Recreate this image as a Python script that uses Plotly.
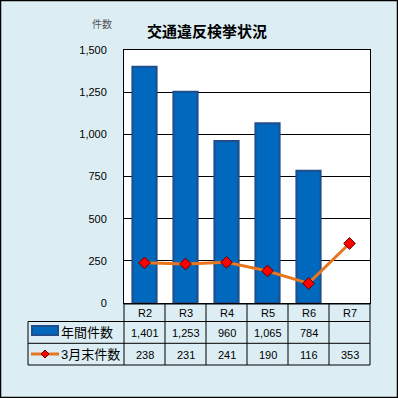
import plotly.graph_objects as go

categories = ["R2", "R3", "R4", "R5", "R6", "R7"]
annual = [1401, 1253, 960, 1065, 784, None]
march = [238, 231, 241, 190, 116, 353]
y_ticks = [0, 250, 500, 750, 1000, 1250, 1500]
series_names = ["年間件数", "3月末件数"]

W, H = 398, 398
L, R, T, B = 124, 370, 50, 303
BG = "#DCEEF4"
FONT = "Liberation Sans, Arial, Noto Sans CJK JP"
BAR_FILL = "#0068BD"
BAR_LINE = "#1F4E8A"
LINE_COL = "#E8761E"


def px(x):
    return (x - L) / (R - L)


def py(y):
    return (B - y) / (B - T)


fig = go.Figure()
fig.add_trace(go.Bar(x=categories, y=annual, name=series_names[0],
                     marker=dict(color=BAR_FILL, line=dict(color=BAR_LINE, width=2))))
fig.add_trace(go.Scatter(x=categories, y=march, name=series_names[1], mode="lines+markers",
                         line=dict(color=LINE_COL, width=3),
                         marker=dict(symbol="diamond", size=9, color="#FF0000",
                                     line=dict(color="#600000", width=1))))

shapes = []
annotations = []

def hline(y, x0, x1, w=1):
    shapes.append(dict(type="line", xref="paper", yref="paper", x0=px(x0), x1=px(x1),
                       y0=py(y), y1=py(y), line=dict(color="black", width=w)))

def vline(x, y0, y1, w=1):
    shapes.append(dict(type="line", xref="paper", yref="paper", x0=px(x), x1=px(x),
                       y0=py(y0), y1=py(y1), line=dict(color="black", width=w)))

def text(x, y, s, size=11, color="black", xanchor="center"):
    annotations.append(dict(xref="paper", yref="paper", x=px(x), y=py(y), text=s,
                            showarrow=False, xanchor=xanchor, yanchor="middle",
                            font=dict(size=size, color=color, family=FONT)))

# outer frame
shapes.append(dict(type="rect", xref="paper", yref="paper", x0=px(0.5), x1=px(397.5),
                   y0=py(0.5), y1=py(397.5), line=dict(color="black", width=1.5), layer="below"))

# table grid
row_lines = [304, 321.5, 343.3, 365]
col_w = (R - L) / len(categories)
hline(row_lines[0], L, R)
for y in row_lines[1:]:
    hline(y, 28, R)
for i in range(len(categories) + 1):
    vline(L + i * col_w, row_lines[0], row_lines[-1])
vline(28, row_lines[1], row_lines[-1])

row_c = [(row_lines[i] + row_lines[i + 1]) / 2 for i in range(3)]
for i, c in enumerate(categories):
    cx = L + (i + 0.5) * col_w
    text(cx, row_c[0] + 0.5, c)
    if annual[i] is not None:
        text(cx, row_c[1] + 0.5, f"{annual[i]:,}")
    text(cx, row_c[2] + 0.5, f"{march[i]:,}")

# legend keys
shapes.append(dict(type="rect", xref="paper", yref="paper", x0=px(32), x1=px(58),
                   y0=py(335), y1=py(326), fillcolor=BAR_FILL,
                   line=dict(color=BAR_LINE, width=2)))
shapes.append(dict(type="line", xref="paper", yref="paper", x0=px(31), x1=px(59),
                   y0=py(354), y1=py(354), line=dict(color=LINE_COL, width=3)))
shapes.append(dict(type="path", xref="paper", yref="paper",
                   path=f"M {px(45)} {py(350)} L {px(49)} {py(354)} L {px(45)} {py(358)} L {px(41)} {py(354)} Z",
                   fillcolor="#FF0000", line=dict(color="#600000", width=1)))
text(59, row_c[1] + 0.5, series_names[0], size=13, xanchor="left")
text(59, row_c[2] + 0.5, series_names[1], size=13, xanchor="left")

# title and axis label
text(207, 32, "<b>交通違反検挙状況</b>", size=15)
text(102, 24, "件数", size=10, color="#555555")

fig.update_layout(
    width=W, height=H,
    margin=dict(l=L, r=W - R, t=T, b=H - B),
    paper_bgcolor=BG, plot_bgcolor="white",
    showlegend=False, bargap=0.41,
    shapes=shapes, annotations=annotations,
    font=dict(family=FONT, size=11, color="black"),
    xaxis=dict(type="category", range=[-0.5, 5.5], showticklabels=False, showgrid=False,
               showline=True, linecolor="black", linewidth=1, mirror=True, ticks="", zeroline=False),
    yaxis=dict(range=[0, 1500], tickvals=y_ticks, tickformat=",", showgrid=True,
               gridcolor="black", gridwidth=1, showline=True, linecolor="black", linewidth=1,
               mirror=True, ticks="", ticklabelstandoff=14, zeroline=False,
               tickfont=dict(size=11, color="black", family=FONT)),
)

fig.write_html("out.html", config={"displayModeBar": False},
               post_script="document.body.style.margin='0';document.body.style.padding='0';document.body.style.overflow='hidden';")
